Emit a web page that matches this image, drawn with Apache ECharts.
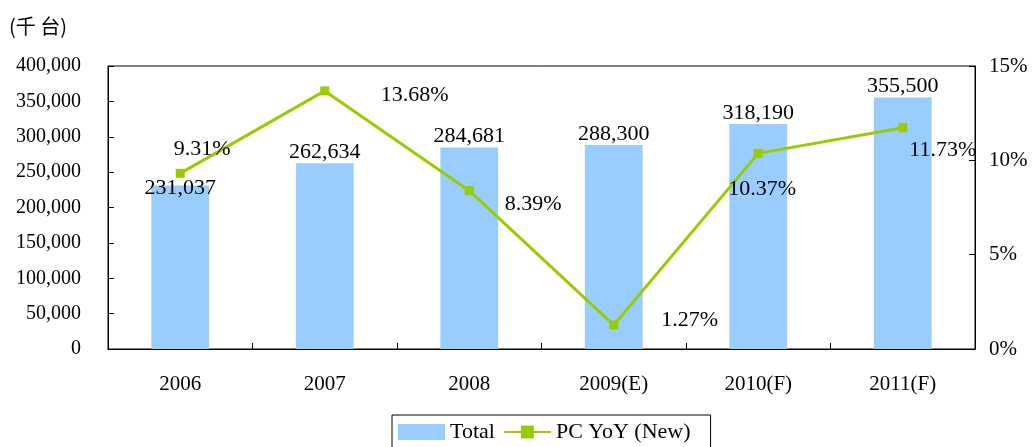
<!DOCTYPE html>
<html>
<head>
<meta charset="utf-8">
<script src="https://cdn.jsdelivr.net/npm/echarts@6/dist/echarts.min.js"></script>
<style>
  html, body { margin: 0; padding: 0; background: #fff; }
  #main { width: 1034px; height: 447px; }
</style>
</head>
<body>
<div id="main"></div>
<script>
const categories = ['2006', '2007', '2008', '2009(E)', '2010(F)', '2011(F)'];
const totalValues = [231037, 262634, 284681, 288300, 318190, 355500];
const yoyValues = [9.31, 13.68, 8.39, 1.27, 10.37, 11.73];
const leftTicks = [0, 400000, 50000];   // min, max, interval
const rightTicks = [0, 15, 5];

// where each YoY label sits relative to its point
const yoyLabelOffsets = [[22, -24], [90, 4], [64, 14], [76, -5], [4, 36], [40, 23]];

const serif = '"Liberation Serif", "DejaVu Serif", serif';

let chartDom = document.getElementById('main');
let myChart = echarts.init(chartDom, null, { renderer: 'canvas' });

const fmt = v => v.toLocaleString('en-US');

const option = {
  animation: false,
  textStyle: { fontFamily: serif, color: '#000' },
  graphic: [{
    type: 'text', left: 9, top: 16,
    style: { text: '(千 台)', font: '20px "Noto Sans CJK TC", sans-serif', fill: '#000' }
  }],
  legend: {
    bottom: -8,
    left: 392,
    itemWidth: 47,
    itemHeight: 16,
    itemGap: 8,
    padding: [6, 20, 12, 6],
    borderColor: '#000',
    borderWidth: 1,
    textStyle: { fontFamily: serif, fontSize: 22, color: '#000', padding: [0, 4, 0, 0] },
    data: [
      { name: 'Total', icon: 'rect' },
      { name: 'PC YoY (New)' }
    ]
  },
  grid: {
    left: 108, right: 59, top: 66, bottom: 98,
    show: true, borderColor: '#000', borderWidth: 1
  },
  xAxis: {
    type: 'category',
    data: categories,
    axisLine: { lineStyle: { color: '#000' } },
    axisTick: { show: true, inside: true, length: 6, lineStyle: { color: '#000' } },
    axisLabel: { color: '#000', fontSize: 21, margin: 25, fontFamily: serif }
  },
  yAxis: [{
    type: 'value',
    min: leftTicks[0], max: leftTicks[1], interval: leftTicks[2],
    splitLine: { show: false },
    axisLine: { show: true, lineStyle: { color: '#000' } },
    axisTick: { show: true, inside: true, length: 6, lineStyle: { color: '#000' } },
    axisLabel: { color: '#000', fontSize: 20, margin: 27, fontFamily: serif, formatter: fmt }
  }, {
    type: 'value',
    min: rightTicks[0], max: rightTicks[1], interval: rightTicks[2],
    splitLine: { show: false },
    axisLine: { show: true, lineStyle: { color: '#000' } },
    axisTick: { show: true, inside: true, length: 6, lineStyle: { color: '#000' } },
    axisLabel: { color: '#000', fontSize: 21, margin: 14, fontFamily: serif, formatter: v => v + '%' }
  }],
  series: [{
    name: 'Total',
    type: 'bar',
    barWidth: '40%',
    itemStyle: { color: '#99CCFF' },
    label: {
      show: true, position: 'top', distance: 0,
      fontSize: 22, color: '#000', fontFamily: serif,
      formatter: p => fmt(p.value)
    },
    data: totalValues.map((v, i) => i === 0
      ? { value: v, label: { offset: [0, 14] } }
      : v),
    z: 2
  }, {
    name: 'PC YoY (New)',
    type: 'line',
    yAxisIndex: 1,
    symbol: 'rect',
    symbolSize: 9,
    lineStyle: { color: '#99CC00', width: 3 },
    itemStyle: { color: '#99CC00' },
    label: {
      show: true, position: 'inside',
      fontSize: 22, color: '#000', fontFamily: serif,
      formatter: p => p.value.toFixed(2) + '%'
    },
    data: yoyValues.map((v, i) => ({ value: v, label: { offset: yoyLabelOffsets[i] } })),
    z: 3
  }]
};

myChart.setOption(option);
</script>
</body>
</html>
